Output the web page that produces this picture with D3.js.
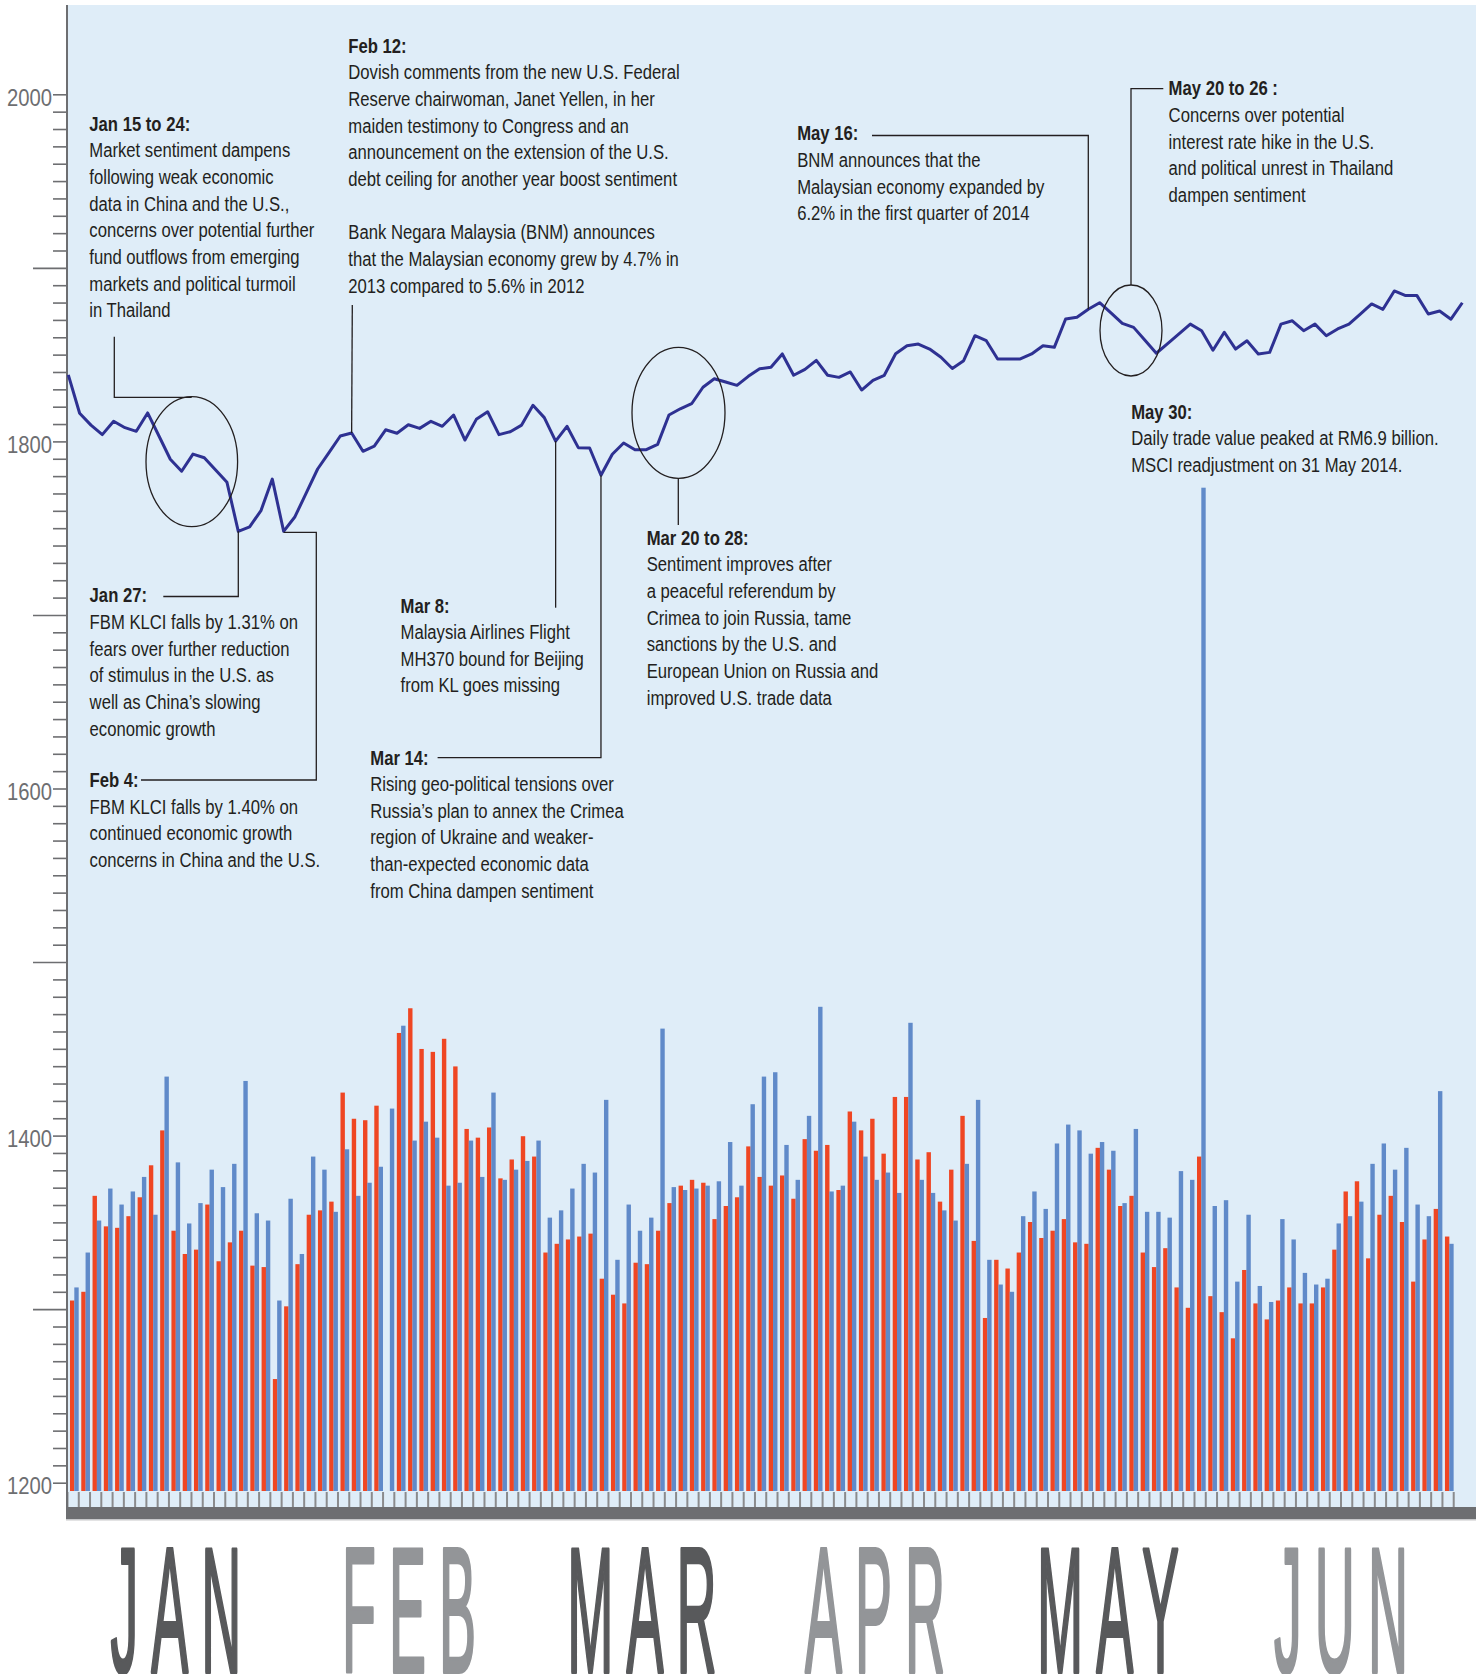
<!DOCTYPE html>
<html>
<head>
<meta charset="utf-8">
<script src="https://cdn.jsdelivr.net/npm/d3@7"></script>
<style>
  html, body { margin: 0; padding: 0; background: #fff; }
  svg { display: block; }
</style>
</head>
<body>
<svg id="s" width="1476" height="1674"></svg>
<script>
// FBM KLCI close, one point per trading day, Jan - Jun 2014
const klci = [
  1838.3, 1816.2, 1809.4, 1803.9, 1811.6, 1807.9, 1805.8, 1816.4, 1803.1, 1789.7,
  1782.8, 1792.7, 1790.6, 1783.5, 1776.4, 1748.2, 1750.8, 1760.1, 1778.3, 1748.2,
  1756.6, 1770.4, 1784.1, 1793.5, 1803.1, 1804.8, 1794.3, 1797.3, 1806.7, 1804.7,
  1809.6, 1807.5, 1811.6, 1808.7, 1815.2, 1800.8, 1812.7, 1817.1, 1803.9, 1805.6,
  1809.4, 1820.8, 1813.7, 1800.2, 1808.7, 1796.4, 1796.2, 1780.5, 1792.6, 1799.1,
  1795.2, 1795.2, 1798.3, 1815.2, 1818.8, 1821.7, 1831.2, 1836.1, 1834.2, 1832.3,
  1837.5, 1841.9, 1842.7, 1850.4, 1838.1, 1841.5, 1846.7, 1838.1, 1836.9, 1840.0,
  1829.6, 1835.2, 1838.1, 1850.5, 1855.1, 1856.1, 1853.2, 1848.5, 1842.0, 1846.5,
  1860.9, 1858.0, 1847.5, 1847.5, 1847.5, 1850.4, 1855.1, 1854.2, 1870.5, 1871.5,
  1876.1, 1879.9, 1874.0, 1868.0, 1865.7, 1858.3, 1850.8, 1856.3, 1861.9, 1867.6,
  1863.8, 1852.5, 1862.9, 1853.2, 1858.0, 1850.4, 1851.3, 1867.6, 1869.5, 1863.8,
  1867.6, 1860.9, 1864.8, 1867.6, 1873.4, 1879.2, 1876.1, 1886.7, 1884.0, 1884.0,
  1873.4, 1875.1, 1870.4, 1879.9
];

// daily volume (red bars), billion units
const volume = [
  1.31, 1.37, 2.03, 1.82, 1.81, 1.89, 2.02, 2.24, 2.48, 1.79,
  1.63, 1.66, 1.97, 1.58, 1.71, 1.79, 1.55, 1.54, 0.77, 1.27,
  1.56, 1.90, 1.93, 1.99, 2.74, 2.56, 2.55, 2.65, null, 3.15,
  3.32, 3.04, 3.02, 3.11, 2.92, 2.49, 2.43, 2.50, 2.15, 2.28,
  2.44, 2.30, 1.64, 1.70, 1.73, 1.75, 1.77, 1.46, 1.35, 1.29,
  1.57, 1.56, 1.79, 1.98, 2.10, 2.14, 2.12, 1.87, 1.96, 2.02,
  2.37, 2.16, 2.10, 2.17, 2.01, 2.42, 2.34, 2.38, 2.07, 2.61,
  2.48, 2.56, 2.32, 2.71, 2.71, 2.28, 2.33, 1.99, 2.21, 2.58,
  1.72, 1.19, 1.59, 1.53, 1.64, 1.85, 1.74, 1.79, 1.87, 1.71,
  1.70, 2.36, 2.21, 1.96, 2.03, 1.64, 1.54, 1.67, 1.40, 1.26,
  2.30, 1.34, 1.23, 1.05, 1.52, 1.29, 1.18, 1.31, 1.40, 1.29,
  1.29, 1.40, 1.66, 2.06, 2.13, 1.60, 1.90, 2.03, 1.85, 1.44,
  1.73, 1.94, 1.75
];

// daily trade value (blue bars), RM billion
const tradeValue = [
  1.40, 1.64, 1.86, 2.08, 1.97, 2.06, 2.16, 1.90, 2.85, 2.26,
  1.84, 1.98, 2.21, 2.09, 2.25, 2.82, 1.91, 1.86, 1.31, 2.01,
  1.63, 2.30, 2.21, 1.92, 2.35, 2.03, 2.12, 2.23, 2.63, 3.20,
  2.41, 2.54, 2.43, 2.10, 2.12, 2.41, 2.16, 2.74, 2.14, 2.21,
  2.27, 2.41, 1.88, 1.93, 2.08, 2.25, 2.19, 2.69, 1.59, 1.97,
  1.79, 1.88, 3.18, 2.09, 2.07, 2.08, 2.10, 2.13, 2.40, 2.10,
  2.66, 2.85, 2.88, 2.38, 2.14, 2.58, 3.33, 2.06, 2.10, 2.54,
  2.30, 2.14, 2.19, 2.05, 3.22, 2.14, 2.05, 1.93, 1.86, 2.25,
  2.69, 1.59, 1.42, 1.37, 1.89, 2.06, 1.94, 2.39, 2.52, 2.48,
  2.32, 2.40, 2.34, 1.98, 2.49, 1.92, 1.92, 1.88, 2.20, 2.14,
  6.90, 1.96, 2.00, 1.44, 1.90, 1.41, 1.30, 1.87, 1.73, 1.50,
  1.42, 1.46, 1.84, 1.89, 1.99, 2.25, 2.39, 2.21, 2.36, 1.97,
  1.89, 2.75, 1.70
];

const months = ['JAN', 'FEB', 'MAR', 'APR', 'MAY', 'JUN'];
const yLabels = [1200, 1400, 1600, 1800, 2000];

// annotation texts
const notes = {
  jan15: ['Jan 15 to 24:', 'Market sentiment dampens', 'following weak economic', 'data in China and the U.S.,',
    'concerns over potential further', 'fund outflows from emerging', 'markets and political turmoil', 'in Thailand'],
  feb12: ['Feb 12:', 'Dovish comments from the new U.S. Federal', 'Reserve chairwoman, Janet Yellen, in her',
    'maiden testimony to Congress and an', 'announcement on the extension of the U.S.',
    'debt ceiling for another year boost sentiment', '', 'Bank Negara Malaysia (BNM) announces',
    'that the Malaysian economy grew by 4.7% in', '2013 compared to 5.6% in 2012'],
  may16: ['May 16:', 'BNM announces that the', 'Malaysian economy expanded by', '6.2% in the first quarter of 2014'],
  may20: ['May 20 to 26 :', 'Concerns over potential', 'interest rate hike in the U.S.',
    'and political unrest in Thailand', 'dampen sentiment'],
  may30: ['May 30:', 'Daily trade value peaked at RM6.9 billion.', 'MSCI readjustment on 31 May 2014.'],
  jan27: ['Jan 27:', 'FBM KLCI falls by 1.31% on', 'fears over further reduction', 'of stimulus in the U.S. as',
    'well as China\u2019s slowing', 'economic growth'],
  feb4: ['Feb 4:', 'FBM KLCI falls by 1.40% on', 'continued economic growth', 'concerns in China and the U.S.'],
  mar8: ['Mar 8:', 'Malaysia Airlines Flight', 'MH370 bound for Beijing', 'from KL goes missing'],
  mar14: ['Mar 14:', 'Rising geo-political tensions over', 'Russia\u2019s plan to annex the Crimea',
    'region of Ukraine and weaker-', 'than-expected economic data', 'from China dampen sentiment'],
  mar20: ['Mar 20 to 28:', 'Sentiment improves after', 'a peaceful referendum by', 'Crimea to join Russia, tame',
    'sanctions by the U.S. and', 'European Union on Russia and', 'improved U.S. trade data'],
};

// layout
const plot = { left: 67, top: 5, right: 1476, base: 1491, rulerBottom: 1507 };
const notePos = {
  jan15: [89.3, 130.7], feb12: [348.3, 52.7], may16: [797.2, 140.2], may20: [1168.6, 95.4],
  may30: [1131.2, 418.7], jan27: [89.6, 602.3], feb4: [89.6, 786.9], mar8: [400.5, 612.5],
  mar14: [370.3, 764.5], mar20: [646.7, 544.7],
};
const ink = '#231f20';
const grey = '#6d6e71';

const svg = d3.select('#s');

const y = d3.scaleLinear().domain([1200, 2000]).range([1482.7, 94.3]);
const xLine = d3.scalePoint().domain(d3.range(klci.length)).range([68.3, 1462.3]);
const xBar = d3.scaleBand().domain(d3.range(tradeValue.length)).range([67.5, 67.5 + tradeValue.length * 11.27]);
const hBar = d3.scaleLinear().domain([0, 6.9]).range([plot.base, 487.7]);
const xMonth = d3.scaleBand().domain(months).range([60, 1458]);

const px = i => xLine(i);
const py = i => y(klci[i]);

// background
svg.append('rect')
  .attr('x', plot.left).attr('y', plot.top)
  .attr('width', plot.right - plot.left).attr('height', plot.rulerBottom - plot.top)
  .attr('fill', '#dfedf8');

// bars
const bw = 4.4;
svg.append('g').selectAll('rect')
  .data(volume.map((v, i) => ({ v, i })).filter(d => d.v != null))
  .enter().append('rect')
  .attr('x', d => xBar(d.i) + 2.5)
  .attr('y', d => hBar(d.v))
  .attr('width', bw)
  .attr('height', d => plot.base - hBar(d.v))
  .attr('fill', '#ef4623');

svg.append('g').selectAll('rect')
  .data(tradeValue)
  .enter().append('rect')
  .attr('x', (v, i) => xBar(i) + 6.8)
  .attr('y', v => hBar(v))
  .attr('width', bw)
  .attr('height', v => plot.base - hBar(v))
  .attr('fill', '#608ac9');

// ruler under the bars
svg.append('g').selectAll('rect')
  .data(d3.range(tradeValue.length + 1))
  .enter().append('rect')
  .attr('x', i => 67.5 + i * xBar.step() - 1)
  .attr('y', plot.base + 1)
  .attr('width', 2)
  .attr('height', plot.rulerBottom - plot.base - 1)
  .attr('fill', '#8a8b8d');

svg.append('rect')
  .attr('x', 66).attr('y', plot.rulerBottom)
  .attr('width', plot.right - 66).attr('height', 12)
  .attr('fill', grey);
svg.append('rect')
  .attr('x', 66).attr('y', plot.rulerBottom + 12)
  .attr('width', plot.right - 66).attr('height', 1.5)
  .attr('fill', '#c7c8ca');

// y axis
const yAxis = d3.axisLeft(y)
  .tickValues(d3.range(1200, 2001, 10))
  .tickSize(14)
  .tickPadding(3)
  .tickFormat(d => yLabels.includes(d) ? d : '');
const ga = svg.append('g').attr('transform', `translate(${plot.left},0)`).call(yAxis);
ga.select('.domain').remove();
ga.selectAll('.tick line')
  .attr('stroke', grey)
  .attr('stroke-width', 1.6)
  .attr('x2', d => (d % 100 === 0 && !yLabels.includes(d)) ? -34 : -14);
ga.selectAll('.tick text')
  .attr('fill', grey)
  .attr('font-family', 'Liberation Sans, Arial, sans-serif')
  .attr('font-size', 23)
  .attr('x', -17)
  .attr('dy', '0.47em')
  .attr('transform', 'scale(0.88,1)');
svg.append('line')
  .attr('x1', plot.left).attr('x2', plot.left)
  .attr('y1', plot.top).attr('y2', plot.rulerBottom)
  .attr('stroke', grey).attr('stroke-width', 2);

// index line
svg.append('path')
  .datum(klci)
  .attr('d', d3.line().x((d, i) => xLine(i)).y(d => y(d)))
  .attr('fill', 'none')
  .attr('stroke', '#2e3192')
  .attr('stroke-width', 3)
  .attr('stroke-linejoin', 'round');

// leader lines and circles
const leaders = [
  [[114.3, 336.7], [114.3, 397.3], [191.7, 397.3]],
  [[352.3, 305], [px(25), py(25)]],
  [[163.3, 596.5], [px(15), 596.5], [px(15), py(15)]],
  [[141, 780], [316.3, 780], [316.3, py(19) + 1], [px(19), py(19) + 1]],
  [[px(43), 607.7], [px(43), py(43)]],
  [[437.6, 757.7], [px(47), 757.7], [px(47), py(47)]],
  [[678.3, 478.3], [678.3, 525]],
  [[872, 135.5], [px(90), 135.5], [px(90), py(90)]],
  [[1163.3, 88.6], [1131, 88.6], [1131, 285]],
];
svg.append('g').selectAll('path')
  .data(leaders)
  .enter().append('path')
  .attr('d', d3.line())
  .attr('fill', 'none')
  .attr('stroke', ink)
  .attr('stroke-width', 1.3);

const rings = [[191.8, 461.7, 45.8, 65], [678.5, 412.8, 46.5, 65.5], [1131, 330.5, 31, 45.5]];
svg.append('g').selectAll('ellipse')
  .data(rings)
  .enter().append('ellipse')
  .attr('cx', d => d[0]).attr('cy', d => d[1])
  .attr('rx', d => d[2]).attr('ry', d => d[3])
  .attr('fill', 'none')
  .attr('stroke', ink)
  .attr('stroke-width', 1.3);

// annotation text
Object.keys(notes).forEach(k => {
  const [nx, ny] = notePos[k];
  const g = svg.append('g')
    .attr('transform', `translate(${nx},${ny}) scale(0.855,1)`)
    .attr('font-family', 'Liberation Sans, Arial, sans-serif')
    .attr('font-size', 19.5)
    .attr('fill', ink);
  g.selectAll('text')
    .data(notes[k])
    .enter().append('text')
    .attr('x', 0)
    .attr('y', (t, i) => i * 26.67)
    .attr('font-weight', (t, i) => i === 0 ? 'bold' : 'normal')
    .text(t => t);
});

// month labels
svg.append('g').selectAll('text')
  .data(months)
  .enter().append('text')
  .attr('transform', m => `translate(${xMonth(m) + xMonth.bandwidth() / 2 + 6},1672) scale(0.31,1)`)
  .attr('text-anchor', 'middle')
  .attr('font-family', 'Liberation Sans, Arial, sans-serif')
  .attr('font-size', 179)
  .attr('letter-spacing', 42)
  .attr('stroke-width', 4)
  .attr('stroke-linejoin', 'round')
  .attr('fill', (m, i) => i % 2 ? '#939598' : '#58595b')
  .attr('stroke', (m, i) => i % 2 ? '#939598' : '#58595b')
  .text(m => m);
</script>
</body>
</html>
